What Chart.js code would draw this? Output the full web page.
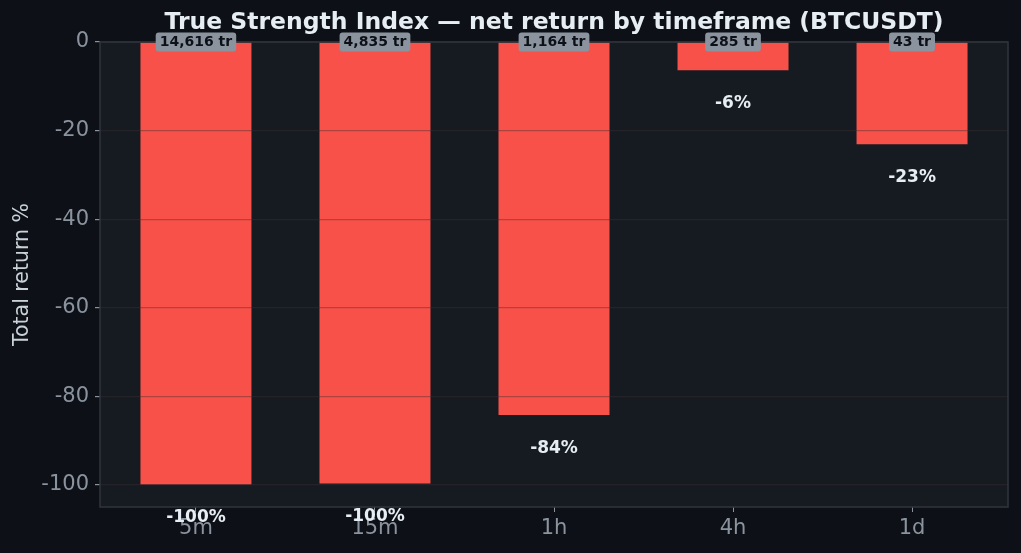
<!DOCTYPE html>
<html>
<head>
<meta charset="utf-8">
<script src="https://cdn.jsdelivr.net/npm/chart.js@4.4.0/dist/chart.umd.min.js"></script>
<style>
    html, body { margin: 0; padding: 0; background: #0d1117; }
    #wrap { width: 1021px; height: 553px; }
</style>
</head>
<body>
<div id="wrap"><canvas id="tsiChart" width="1021" height="553"></canvas></div>
<script>
// Data
const timeframes = ['5m', '15m', '1h', '4h', '1d'];
const netReturns = [-99.9, -99.7, -84.2, -6.4, -23.1];
const returnLabels = ['-100%', '-100%', '-84%', '-6%', '-23%'];
const tradeCounts = ['14,616 tr', '4,835 tr', '1,164 tr', '285 tr', '43 tr'];
const yTicks = [0, -20, -40, -60, -80, -100];
const chartTitle = 'True Strength Index — net return by timeframe (BTCUSDT)';

const FONT = "'DejaVu Sans', sans-serif";

// Plot background, frame, title and text annotations
const annotate = {
    id: 'annotate',
    beforeDraw(chart) {
        const { ctx, chartArea: a } = chart;
        ctx.save();
        ctx.fillStyle = '#161b22';
        ctx.fillRect(a.left, a.top, a.right - a.left, a.bottom - a.top);
        ctx.restore();
    },
    afterDraw(chart) {
        const { ctx, chartArea: a } = chart;
        const yScale = chart.scales.y;
        const bars = chart.getDatasetMeta(0).data;

        ctx.save();
        ctx.strokeStyle = '#30363d';
        ctx.lineWidth = 1.5;
        ctx.strokeRect(a.left, a.top, a.right - a.left, a.bottom - a.top);

        // title centred over the plot area
        ctx.font = `bold 23.5px ${FONT}`;
        ctx.fillStyle = '#e6edf3';
        ctx.textAlign = 'center';
        ctx.textBaseline = 'middle';
        ctx.fillText(chartTitle, (a.left + a.right) / 2, 23);

        // net return under each bar end
        ctx.font = `bold 17px ${FONT}`;
        bars.forEach((bar, i) => {
            const y = yScale.getPixelForValue(netReturns[i] - 7.5);
            ctx.fillText(returnLabels[i], bar.x, y);
        });

        // trade count badges at zero line
        ctx.font = `bold 14px ${FONT}`;
        bars.forEach((bar, i) => {
            const y0 = yScale.getPixelForValue(0);
            const w = ctx.measureText(tradeCounts[i]).width + 8;
            const h = 19;
            ctx.fillStyle = '#8b949e';
            ctx.beginPath();
            ctx.roundRect(bar.x - w / 2, y0 - h / 2, w, h, 3);
            ctx.fill();
            ctx.fillStyle = '#0d1117';
            ctx.fillText(tradeCounts[i], bar.x, y0 + 0.5);
        });
        ctx.restore();
    }
};

new Chart(document.getElementById('tsiChart'), {
    type: 'bar',
    data: {
        datasets: [{
            data: timeframes.map((t, i) => ({ x: i, y: netReturns[i] })),
            backgroundColor: '#f85149',
            borderWidth: 0,
            barPercentage: 0.62,
            categoryPercentage: 1.0
        }]
    },
    options: {
        responsive: false,
        animation: false,
        devicePixelRatio: 1,
        layout: { padding: { left: 0, right: 13, top: 42, bottom: 0 } },
        plugins: {
            legend: { display: false },
            tooltip: { enabled: false },
            title: { display: false }
        },
        scales: {
            x: {
                type: 'linear',
                min: -0.536,
                max: 4.536,
                offset: false,
                afterBuildTicks: (scale) => {
                    scale.ticks = timeframes.map((t, i) => ({ value: i }));
                },
                afterFit: (scale) => { scale.height = 46; },
                grid: {
                    offset: false,
                    drawOnChartArea: false,
                    drawTicks: true,
                    tickLength: 5,
                    tickColor: '#8b949e'
                },
                border: { display: false },
                ticks: {
                    color: '#8b949e',
                    font: { family: FONT, size: 21 },
                    padding: 4,
                    autoSkip: false,
                    maxRotation: 0,
                    callback: (v) => timeframes[v]
                }
            },
            y: {
                min: -105,
                max: 0,
                afterBuildTicks: (scale) => {
                    scale.ticks = yTicks.map(v => ({ value: v }));
                },
                afterFit: (scale) => { scale.width = 100; },
                grid: {
                    z: 1,
                    color: 'rgba(60, 45, 50, 0.4)',
                    lineWidth: 1.2,
                    drawTicks: true,
                    tickLength: 5,
                    tickColor: '#8b949e'
                },
                border: { display: false },
                title: {
                    display: true,
                    text: 'Total return %',
                    color: '#c9d1d9',
                    font: { family: FONT, size: 20.5 },
                    padding: { top: 10, bottom: 0 }
                },
                ticks: {
                    color: '#8b949e',
                    font: { family: FONT, size: 21 },
                    padding: 6,
                    callback: (v) => String(v)
                }
            }
        }
    },
    plugins: [annotate]
});
</script>
</body>
</html>
